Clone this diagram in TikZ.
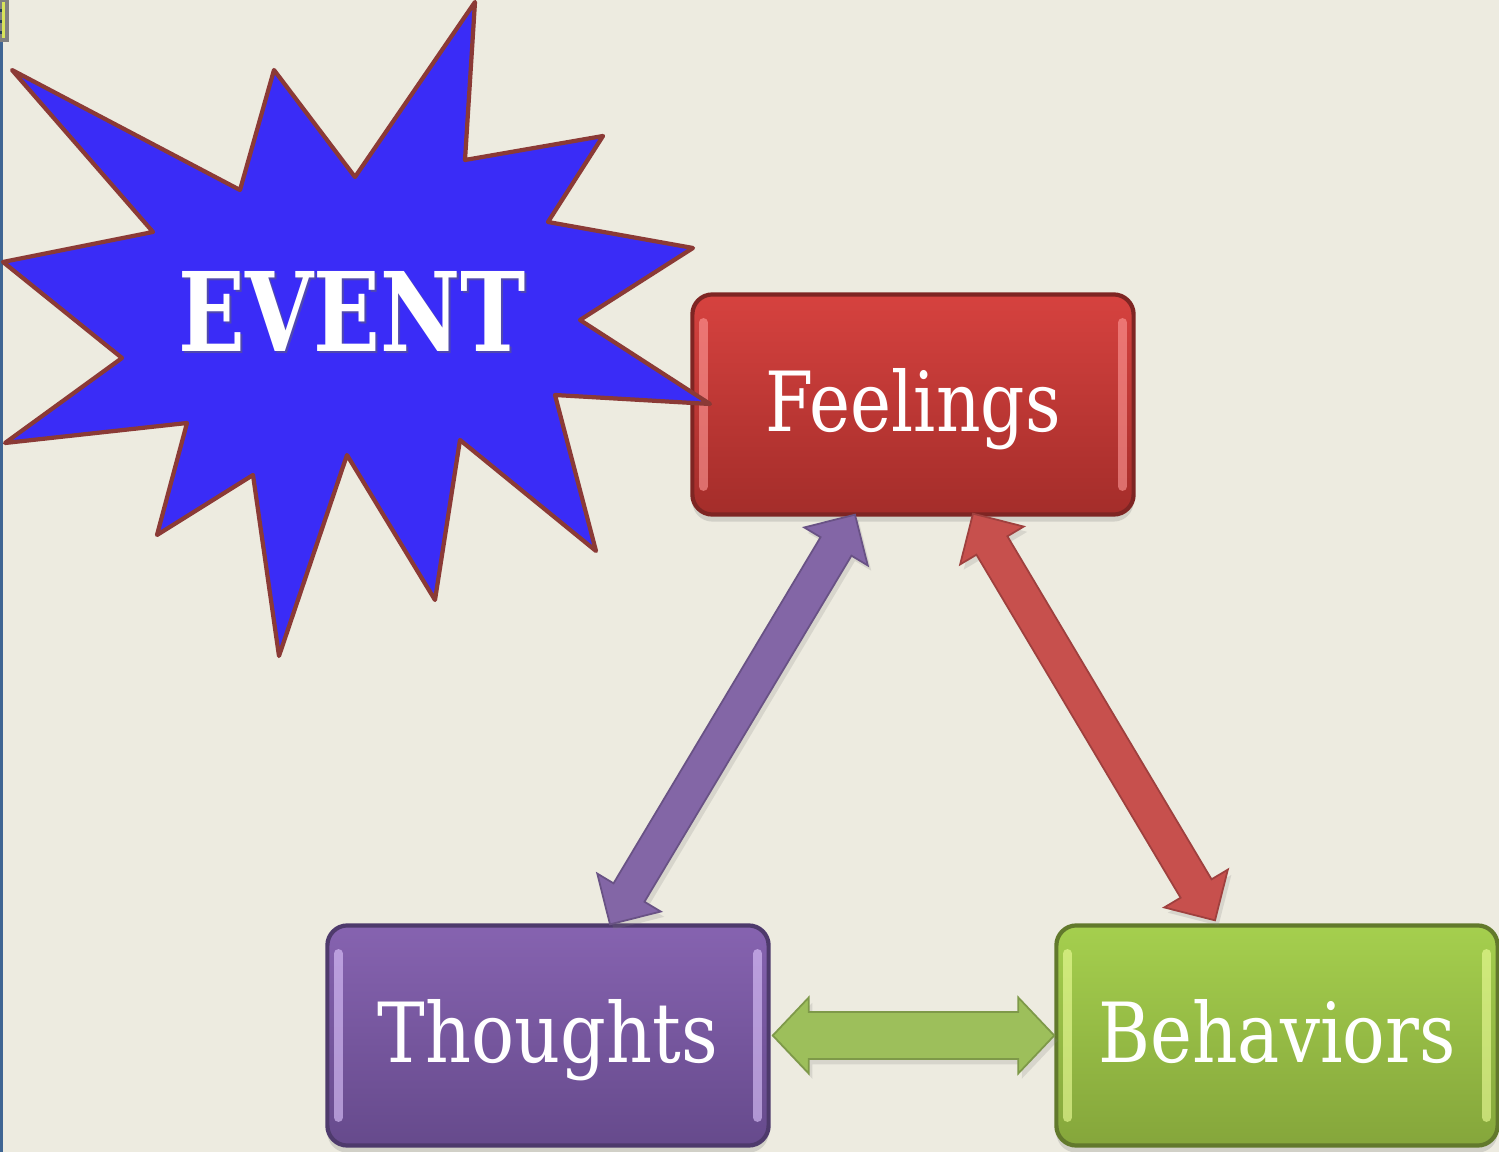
\documentclass[tikz,border=0pt]{standalone}
\usepackage{fontspec}
\setmainfont{DejaVu Serif}
\usetikzlibrary{calc,shadows}
\definecolor{bg}{HTML}{EDEBE0}
\definecolor{edgeblue}{HTML}{3F6593}
\definecolor{iconyellow}{HTML}{D8E45A}
\definecolor{starfill}{HTML}{3A2CF7}
\definecolor{starline}{HTML}{8B3A36}
\definecolor{redtop}{HTML}{D6423F}
\definecolor{redbot}{HTML}{A42D2A}
\definecolor{redline}{HTML}{7E2523}
\definecolor{redhl}{HTML}{FF9A98}
\definecolor{purtop}{HTML}{8663B0}
\definecolor{purbot}{HTML}{664A8C}
\definecolor{purline}{HTML}{4E3A6C}
\definecolor{purhl}{HTML}{E0C8FF}
\definecolor{grntop}{HTML}{A5CF4E}
\definecolor{grnbot}{HTML}{85A63B}
\definecolor{grnline}{HTML}{62792C}
\definecolor{grnhl}{HTML}{EEFF9A}
\definecolor{arrpur}{HTML}{8366A6}
\definecolor{arrred}{HTML}{C7504D}
\definecolor{arrgrn}{HTML}{9DBF5B}
\newcommand\blockarrow[6]{%
  \coordinate (#2-h) at ($(#2)!#4!(#3)$);
  \coordinate (#3-h) at ($(#3)!#4!(#2)$);
  \draw[#1] (#2) -- ($(#2-h)!#5!90:(#3)$) -- ($(#2-h)!#6!90:(#3)$)
    -- ($(#3-h)!#6!-90:(#2)$) -- ($(#3-h)!#5!-90:(#2)$) -- (#3)
    -- ($(#3-h)!#5!90:(#2)$) -- ($(#3-h)!#6!90:(#2)$)
    -- ($(#2-h)!#6!-90:(#3)$) -- ($(#2-h)!#5!-90:(#3)$) -- cycle;}
\begin{document}
\begin{tikzpicture}[x=0.01cm,y=-0.01cm,
  box/.style={rounded corners=0.2cm, draw=#1line, line width=1.2pt,
    top color=#1top, bottom color=#1bot,
    minimum width=4.41cm, minimum height=2.20cm, inner sep=0pt,
    text=white, text height=0.54cm, text depth=0cm,
    drop shadow={opacity=0.25, shadow xshift=0pt, shadow yshift=-2pt},
    path picture={
      \draw[#1hl, opacity=0.6, line width=2.5pt, line cap=round] ([xshift=0.11cm,yshift=-0.28cm]path picture bounding box.north west) -- ([xshift=0.11cm,yshift=0.28cm]path picture bounding box.south west);
      \draw[#1hl, opacity=0.6, line width=2.5pt, line cap=round] ([xshift=-0.11cm,yshift=-0.28cm]path picture bounding box.north east) -- ([xshift=-0.11cm,yshift=0.28cm]path picture bounding box.south east);
    }},
  arr/.style={fill=#1, draw=#1!80!black, line width=0.5pt, line join=miter,
    drop shadow={opacity=0.2, shadow xshift=1pt, shadow yshift=-1.5pt}},
  star/.style={fill=starfill, draw=starline, line width=1.2pt, line join=round}]
\useasboundingbox (0,0) rectangle (1499,1152);
\fill[bg] (0,0) rectangle (1499,1152);
\fill[edgeblue] (0,0) rectangle (3,1152);
\draw[fill=iconyellow, draw=gray, line width=1pt] (0,0) rectangle (7,40);
\foreach \yy in {9,20,31} \fill[edgeblue!60!black] (0.5,\yy) rectangle (2.5,\yy+3);

% boxes
\node[box=red] (feel) at (913,404.5) {\resizebox{2.95cm}{0.63cm}{Feelings}};
\node[box=pur] (thou) at (548,1035.5) {\resizebox{3.40cm}{0.63cm}{Thoughts}};
\node[box=grn] (beh) at (1277,1035.5) {\resizebox{3.57cm}{0.63cm}{Behaviors}};

% connector end points
\coordinate (pa) at ($(feel.south)+(-58,-2)$);
\coordinate (pb) at ($(thou.north)+(62,1)$);
\coordinate (ra) at ($(feel.south)+(60,-3)$);
\coordinate (rb) at ($(beh.north)+(-62,-3)$);
\coordinate (ga) at ($(thou.east)+(2,0)$);
\coordinate (gb) at ($(beh.west)+(0,0)$);

\blockarrow{arr=arrpur}{pa}{pb}{0.37cm}{0.37cm}{0.18cm}
\blockarrow{arr=arrred}{ra}{rb}{0.37cm}{0.37cm}{0.18cm}
\blockarrow{arr=arrgrn}{ga}{gb}{0.36cm}{0.38cm}{0.235cm}

% starburst
\draw[star] (12,70) -- (240,190) -- (274,70) -- (355,177) -- (475,2) -- (465,160)
  -- (603,136) -- (548,222) -- (693,248) -- (580,320) -- (710,404) -- (555,395)
  -- (596,551) -- (460,440) -- (435,600) -- (347,455) -- (279,656) -- (253,475)
  -- (157,535) -- (187,423) -- (5,443) -- (122,358) -- (3,262) -- (153,232) -- cycle;
\node[text=black!60, opacity=0.5, anchor=base west, inner sep=0pt] at (180,354) {\resizebox{3.47cm}{0.80cm}{\bfseries EVENT}};
\node[text=white, anchor=base west, inner sep=0pt] (event) at (178,352) {\resizebox{3.47cm}{0.80cm}{\bfseries EVENT}};
\end{tikzpicture}
\end{document}
